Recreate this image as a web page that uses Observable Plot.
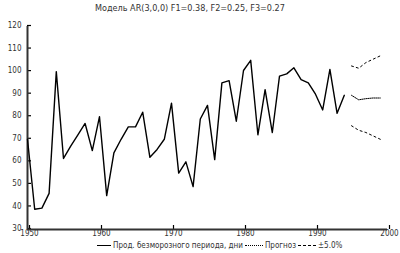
<!DOCTYPE html>
<html><head><meta charset="utf-8">
<script src="https://cdn.jsdelivr.net/npm/d3@7"></script>
<script src="https://cdn.jsdelivr.net/npm/@observablehq/plot@0.6"></script>
<style>
body{margin:0;background:#fff;font-family:"Liberation Sans Narrow","DejaVu Sans Condensed",sans-serif;}
#wrap{position:relative;width:400px;height:253px;overflow:hidden;}
#title{position:absolute;top:3px;left:0;width:380px;text-align:center;font-size:9px;color:#333;font-weight:normal;}
#chart{position:absolute;top:16px;left:0;}
#legend{position:absolute;top:241px;left:95px;font-size:8px;line-height:9px;color:#333;white-space:nowrap;display:flex;align-items:center;}
.sw{display:inline-block;width:14px;height:0;margin:0 2px;}
</style></head>
<body><div id="wrap">
<div id="title">Модель AR(3,0,0) F1=0.38, F2=0.25, F3=0.27</div>
<div id="chart"></div>
<div id="legend"><span class="sw" style="border-top:1px solid #000"></span>Прод. безморозного периода, дни<span class="sw" style="border-top:1px dotted #000;width:18px"></span>Прогноз<span class="sw" style="border-top:1px dashed #000;width:18px"></span>±5.0%</div>
</div>
<script>
const years = d3.range(1950, 1995);
const values = [70, 39, 39.5, 46, 100, 61.5, 67, 72, 77, 65,
  80, 45, 64, 70, 75.5, 75.5, 82, 62, 65.5, 70,
  86, 55, 60, 49, 79, 85, 61, 95, 96, 78,
  100.5, 105, 72, 92, 73, 98, 99, 101.7, 96.4, 95,
  90, 83, 101, 81.5, 89.5];
const fYears = [1995, 1996, 1997, 1998, 1999];
const fCenter = [89.5, 87.5, 88, 88.3, 88.3];
const fUpper = [102.5, 101.5, 104, 105.5, 107];
const fLower = [76, 74, 73, 71.5, 70];
const xTicks = [1950, 1960, 1970, 1980, 1990, 2000];
const yTicks = [30, 40, 50, 60, 70, 80, 90, 100, 110, 120];

const obs = years.map((y, i) => ({year: y, v: values[i]}));
const fc = fYears.map((y, i) => ({year: y, c: fCenter[i], u: fUpper[i], l: fLower[i]}));

const plot = Plot.plot({
  width: 400, height: 227,
  marginLeft: 27, marginRight: 13, marginTop: 10, marginBottom: 14,
  style: {fontSize: "8px", fontFamily: "'Liberation Sans Narrow','DejaVu Sans Condensed',sans-serif", color: "#333", background: "#fff"},
  x: {domain: [1950, 2000]},
  y: {domain: [30, 120]},
  marks: [
    Plot.axisX(xTicks, {tickSize: -4, tickPadding: 5, tickFormat: d => String(d), label: null, strokeWidth: 1.2, stroke: "#000", dx: 2}),
    Plot.axisY(yTicks, {tickSize: -4, tickPadding: 10, label: null, strokeWidth: 1.2, stroke: "#000", dy: -1}),
    Plot.ruleY([30], {strokeWidth: 2}),
    Plot.ruleX([1950], {strokeWidth: 2}),
    Plot.line(obs, {x: "year", y: "v", stroke: "#000", strokeWidth: 1.4}),
    Plot.line(fc, {x: "year", y: "c", stroke: "#000", strokeWidth: 1, strokeDasharray: "1,1"}),
    Plot.line(fc, {x: "year", y: "u", stroke: "#000", strokeWidth: 1, strokeDasharray: "2,3"}),
    Plot.line(fc, {x: "year", y: "l", stroke: "#000", strokeWidth: 1, strokeDasharray: "2,3"})
  ]
});
document.getElementById("chart").appendChild(plot);
</script>
</body></html>
